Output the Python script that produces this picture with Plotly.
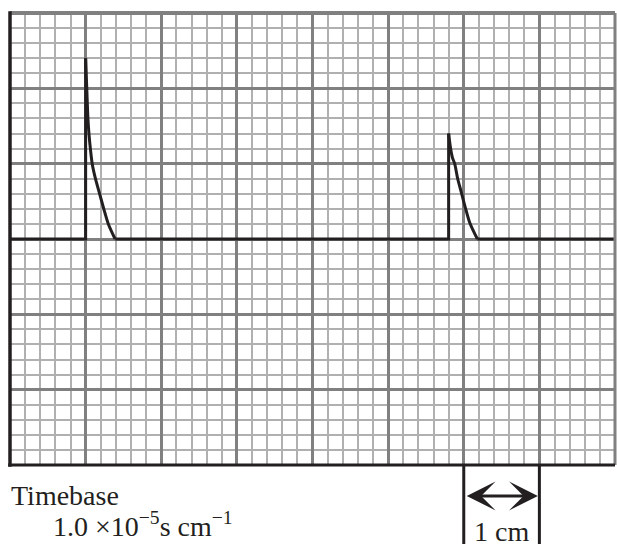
import plotly.graph_objects as go

# Trace (x in cm / divisions, y in divisions)
pulse_start_cm = [1.0, 5.8]
pulse_end_cm = [1.39, 6.18]
pulse_peak_div = [2.4, 1.4]
decay1_t = [1.0, 1.015, 1.03, 1.044, 1.066, 1.087, 1.13, 1.185, 1.24, 1.30, 1.39]
decay1_v = [2.4, 2.0, 1.61, 1.4, 1.17, 1.0, 0.8, 0.6, 0.4, 0.2, 0.0]
decay2_t = [5.8, 5.826, 5.85, 5.88, 5.92, 5.968, 6.02, 6.078, 6.18]
decay2_v = [1.4, 1.2, 1.08, 1.0, 0.8, 0.62, 0.42, 0.22, 0.0]

x_range = [0, 8]
y_range = [-3, 3]
scale_cm = [6, 7]
timebase_label = "Timebase"
timebase_value = "1.0 ×10<sup>−5</sup>s cm<sup>−1</sup>"
scale_label = "1 cm"

W, H = 617, 544
ML, MR, MT, MB = 10, 2, 13, 78.5
FONT = "Liberation Serif, Times New Roman, serif"
MAJOR = "#808080"
MINOR = "#b0b0b0"
INK = "#231f20"

# baseline with vertical rises (linear pieces)
base_x, base_y = [x_range[0]], [0.0]
for s, e, p in zip(pulse_start_cm, pulse_end_cm, pulse_peak_div):
    base_x += [s, s, None, e]
    base_y += [0.0, p, None, 0.0]
base_x.append(x_range[1])
base_y.append(0.0)

fig = go.Figure()
fig.add_trace(go.Scatter(x=base_x, y=base_y, mode="lines",
                         line=dict(color=INK, width=3), hoverinfo="skip",
                         showlegend=False))
for t, v in ((decay1_t, decay1_v), (decay2_t, decay2_v)):
    fig.add_trace(go.Scatter(x=t, y=v, mode="lines",
                             line=dict(color=INK, width=3, shape="spline", smoothing=0.8),
                             hoverinfo="skip", showlegend=False))

axis_common = dict(showticklabels=False, ticks="", zeroline=False, showline=False,
                   showgrid=True, gridcolor=MAJOR, gridwidth=3, dtick=1, tick0=0,
                   minor=dict(dtick=0.2, tick0=0, showgrid=True, gridcolor=MINOR,
                              gridwidth=2))
fig.update_xaxes(range=x_range, **axis_common)
fig.update_yaxes(range=y_range, **axis_common)

shapes = [
    dict(type="line", xref="paper", yref="paper", x0=0, x1=1, y0=1, y1=1,
         line=dict(color=MAJOR, width=4)),
    dict(type="line", xref="paper", yref="paper", x0=1, x1=1, y0=0, y1=1,
         line=dict(color=MAJOR, width=3)),
    dict(type="line", xref="paper", yref="paper", x0=0, x1=0, y0=-0.004, y1=1.004,
         line=dict(color=INK, width=3.5)),
    dict(type="line", xref="paper", yref="paper", x0=-0.003, x1=1, y0=0, y1=0,
         line=dict(color=INK, width=3)),
]
for xc in scale_cm:
    shapes.append(dict(type="line", xref="x", yref="paper", x0=xc, x1=xc,
                       y0=0, y1=-0.2, line=dict(color=INK, width=3)))
fig.update_layout(shapes=shapes)

annotations = [
    dict(text=timebase_label, xref="paper", yref="paper", x=0, y=0,
         xanchor="left", yanchor="top", xshift=-1, yshift=-13, showarrow=False,
         font=dict(family=FONT, size=28, color=INK)),
    dict(text=timebase_value, xref="paper", yref="paper", x=0, y=0,
         xanchor="left", yanchor="top", xshift=41, yshift=-40, showarrow=False,
         font=dict(family=FONT, size=28, color=INK)),
    dict(text=scale_label, xref="x", yref="paper", x=sum(scale_cm) / 2, y=0,
         xanchor="center", yanchor="top", yshift=-49, showarrow=False,
         font=dict(family=FONT, size=28, color=INK)),
    dict(text="", xref="x", yref="paper", x=scale_cm[1], y=0, yshift=-31,
         ax=scale_cm[0], axref="x", ay=0, ayref="pixel",
         showarrow=True, arrowhead=3, arrowside="end+start", arrowsize=1.6,
         arrowwidth=3, arrowcolor=INK, standoff=1.5, startstandoff=1.5),
]
fig.update_layout(annotations=annotations)

fig.update_layout(width=W, height=H, margin=dict(l=ML, r=MR, t=MT, b=MB, pad=0),
                  paper_bgcolor="white", plot_bgcolor="white",
                  font=dict(family=FONT))

fig.write_html("out.html", config={"displayModeBar": False, "staticPlot": True},
               post_script="document.body.style.margin='0';document.body.style.overflow='hidden';")
